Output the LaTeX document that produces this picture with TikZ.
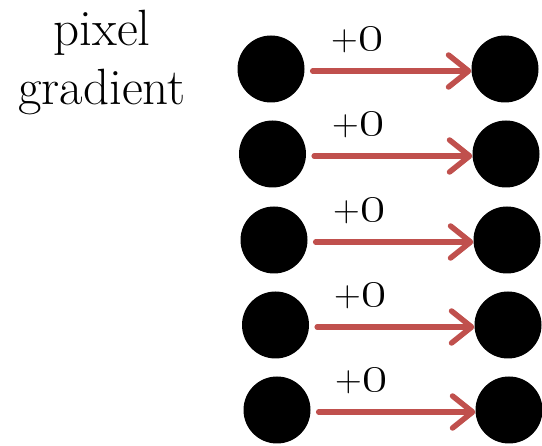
\RequirePackage{fix-cm}
\documentclass[tikz,border=0pt]{standalone}
\usetikzlibrary{arrows.meta}

\definecolor{arrowred}{RGB}{192,80,77}

\tikzset{
    pix/.style={circle, fill=black, minimum size=67pt, inner sep=0pt},
    shiftarrow/.style={arrowred, line width=5.5pt, line cap=round,
        -{Straight Barb[length=20pt, width=32pt, round]}},
    addlabel/.style={inner sep=0pt},
}
% plus sign and old-style zero, sized to match each other
\newcommand{\pluszero}{{\fontsize{37}{39}\selectfont+}{\fontsize{54}{56}\selectfont\oldstylenums{0}}}

\begin{document}
\begin{tikzpicture}[x=1pt, y=-1pt]
    \useasboundingbox (0,0) rectangle (542,446);

    % heading on the left
    \node[align=center, font=\fontsize{51}{59}\selectfont] (title) at (102,63) {pixel\\gradient};

    % one row per pixel: left pixel, shift, right pixel
    \foreach \i/\y in {1/69, 2/154, 3/240, 4/325, 5/410} {
        \node[pix] (l\i) at ({269.5+1.5*\i},\y) {};
        \node[pix] (r\i) at ({504+\i},\y) {};
        \draw[shiftarrow] ([xshift=8pt, yshift=-2pt]l\i.east) -- ([yshift=-2pt]r\i.west);
        \node[addlabel] (d\i) at ({357+\i},{\y-29}) {\pluszero};
    }
\end{tikzpicture}
\end{document}
